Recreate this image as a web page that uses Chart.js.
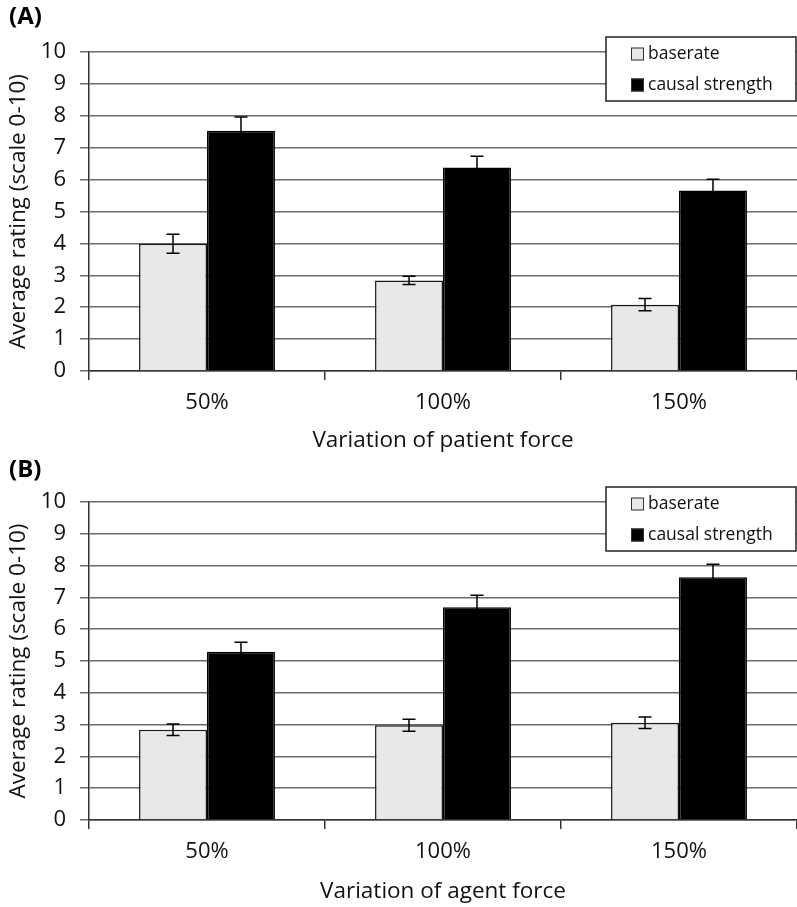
<!DOCTYPE html>
<html>
<head>
<meta charset="utf-8">
<script src="https://cdn.jsdelivr.net/npm/chart.js@4.4.0/dist/chart.umd.min.js"></script>
<style>
  html, body { margin: 0; padding: 0; background: #fff; }
  .panel { width: 797px; position: relative; }
  canvas { display: block; }
</style>
</head>
<body>
<div class="panel"><canvas id="chartA" width="797" height="453"></canvas></div>
<div class="panel"><canvas id="chartB" width="797" height="454"></canvas></div>
<script>
const categories = ["50%", "100%", "150%"];
const seriesNames = ["baserate", "causal strength"];
const yTickValues = [0, 1, 2, 3, 4, 5, 6, 7, 8, 9, 10];

// (A) variation of patient force
const patientBaserate = [3.99, 2.84, 2.08];
const patientBaserateErr = [0.30, 0.13, 0.19];
const patientCausal = [7.53, 6.38, 5.66];
const patientCausalErr = [0.43, 0.35, 0.35];

// (B) variation of agent force
const agentBaserate = [2.84, 2.98, 3.06];
const agentBaserateErr = [0.18, 0.19, 0.18];
const agentCausal = [5.29, 6.69, 7.63];
const agentCausalErr = [0.30, 0.38, 0.41];

const FONT = "'Open Sans', Lato, sans-serif";
const baseColors = ["#e8e8e8", "#000000"];

// draws the error bars from each dataset's err array, through the y scale
const errorBars = {
  id: "errorBars",
  afterDatasetsDraw(chart) {
    const ctx = chart.ctx;
    const y = chart.scales.y;
    ctx.save();
    ctx.strokeStyle = "#000";
    ctx.lineWidth = 1.5;
    chart.data.datasets.forEach((ds, i) => {
      const meta = chart.getDatasetMeta(i);
      meta.data.forEach((bar, j) => {
        const v = ds.data[j], e = ds.err[j];
        const top = y.getPixelForValue(v + e);
        const bot = y.getPixelForValue(v - e);
        ctx.beginPath();
        ctx.moveTo(bar.x, top); ctx.lineTo(bar.x, bot);
        ctx.moveTo(bar.x - 6.5, top); ctx.lineTo(bar.x + 6.5, top);
        ctx.moveTo(bar.x - 6.5, bot); ctx.lineTo(bar.x + 6.5, bot);
        ctx.stroke();
      });
    });
    ctx.restore();
  }
};

// boxed legend in the top right corner + panel letter
const boxLegend = {
  id: "boxLegend",
  afterDraw(chart, args, opts) {
    const ctx = chart.ctx;
    const area = chart.chartArea;
    ctx.save();
    ctx.font = "bold 24px " + FONT;
    ctx.fillStyle = "#000";
    ctx.textBaseline = "top";
    ctx.textAlign = "left";
    ctx.fillText(opts.letter, 9, opts.letterY);

    const w = 190, h = 64;
    const x0 = area.right - w - 1, y0 = area.top - 15;
    ctx.fillStyle = "#fff";
    ctx.fillRect(x0, y0, w, h);
    ctx.strokeStyle = "#222";
    ctx.lineWidth = 1.5;
    ctx.strokeRect(x0, y0, w, h);

    ctx.font = "17.5px " + FONT;
    ctx.textBaseline = "middle";
    chart.data.datasets.forEach((ds, i) => {
      const cy = y0 + 17 + i * 31;
      ctx.fillStyle = ds.backgroundColor;
      ctx.fillRect(x0 + 25, cy - 6.5, 13, 13);
      ctx.strokeStyle = "#333";
      ctx.lineWidth = 1;
      ctx.strokeRect(x0 + 25.5, cy - 6, 12, 12);
      ctx.fillStyle = "#111";
      ctx.fillText(ds.label, x0 + 42, cy);
    });
    ctx.restore();
  }
};

function makePanel(id, letter, baserate, baserateErr, causal, causalErr, xTitle, geo) {
  return new Chart(document.getElementById(id), {
    type: "bar",
    data: {
      labels: categories,
      datasets: [
        { label: seriesNames[0], data: baserate, err: baserateErr,
          backgroundColor: baseColors[0], borderColor: "#1a1a1a", borderWidth: 1.5 },
        { label: seriesNames[1], data: causal, err: causalErr,
          backgroundColor: baseColors[1], borderColor: "#000", borderWidth: 1.5 }
      ]
    },
    options: {
      responsive: false,
      animation: false,
      barPercentage: 1,
      categoryPercentage: 0.576,
      layout: { padding: { top: geo.top, left: 0, right: 0, bottom: 0 } },
      plugins: {
        legend: { display: false },
        tooltip: { enabled: false },
        boxLegend: { letter: letter, letterY: geo.letterY }
      },
      scales: {
        x: {
          offset: true,
          afterFit: (s) => { s.height = geo.xHeight; },
          grid: { drawOnChartArea: false, drawTicks: true, tickLength: 9, color: "#333", lineWidth: 1.5, offset: true },
          border: { display: true, color: "#333", width: 1.5 },
          ticks: { font: { family: FONT, size: 22 }, color: "#111", padding: 10 },
          title: { display: true, text: xTitle, font: { family: FONT, size: 22.5, lineHeight: 1 },
                   color: "#111", padding: { top: 0, bottom: geo.titlePad } }
        },
        y: {
          min: 0, max: 10,
          afterFit: (s) => { s.width = 89; },
          afterBuildTicks: (s) => { s.ticks = yTickValues.map(v => ({ value: v })); },
          grid: { color: "#6b6b6b", lineWidth: 1.5, tickLength: 9 },
          border: { display: true, color: "#333", width: 1.5 },
          ticks: { font: { family: FONT, size: 22 }, color: "#111", padding: 14 },
          title: { display: true, text: "Average rating (scale 0-10)",
                   font: { family: FONT, size: 22.5, lineHeight: 1 }, color: "#111",
                   padding: { top: 7, bottom: 0 } }
        }
      }
    },
    plugins: [errorBars, boxLegend]
  });
}

makePanel("chartA", "(A)", patientBaserate, patientBaserateErr, patientCausal, patientCausalErr,
  "Variation of patient force", { top: 52, xHeight: 82, titlePad: 1, letterY: 5 });
makePanel("chartB", "(B)", agentBaserate, agentBaserateErr, agentCausal, agentCausalErr,
  "Variation of agent force", { top: 49, xHeight: 87, titlePad: 4, letterY: 5 });
</script>
</body>
</html>
